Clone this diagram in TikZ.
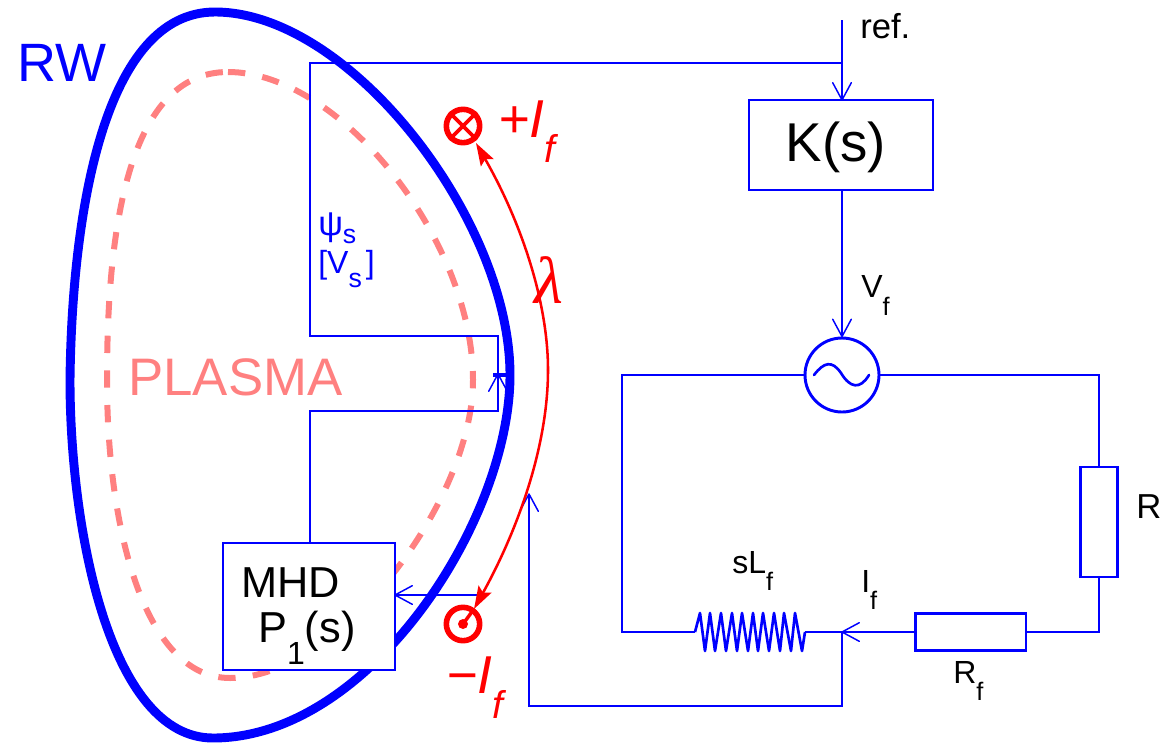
\documentclass[tikz,border=0pt]{standalone}
\usepackage{fontspec}
\setmainfont{Liberation Sans}
\newfontfamily\serifgreek{Liberation Serif}
\definecolor{bl}{RGB}{0,0,255}
\definecolor{pk}{RGB}{255,128,128}
\definecolor{rd}{RGB}{255,0,0}
\newcommand{\fs}[1]{\fontsize{#1}{#1}\selectfont}
\newcommand{\subdrop}[3]{\raisebox{-#1pt}{\fs{#2}#3}}
\usetikzlibrary{arrows.meta}
\pgfdeclarearrow{
  name=OpenVee,
  setup code={\pgfarrowssettipend{0pt}\pgfarrowssetlineend{-1pt}\pgfarrowssetbackend{-13pt}\pgfarrowssetvisualbackend{-1pt}},
  drawing code={\pgfsetdash{}{0pt}\pgfsetroundcap\pgfsetroundjoin
    \pgfpathmoveto{\pgfpoint{-13pt}{7pt}}\pgfpathlineto{\pgfpoint{0pt}{0pt}}\pgfpathlineto{\pgfpoint{-13pt}{-7pt}}\pgfusepathqstroke}
}
\tikzset{
  wire/.style={draw=bl,line width=1.1pt},
  openarrow/.style={-{OpenVee}},
  compbox/.style={draw=bl,line width=2pt,fill=white,inner sep=0pt},
  txt/.style={inner sep=0pt,text=black},
  redcurve/.style={draw=rd,line width=1.9pt},
  redtip/.style={-{Stealth[length=17pt,width=11pt,inset=3pt]}},
  coilring/.style={circle,draw=rd,line width=4.2pt,minimum size=25pt,inner sep=0pt,fill=white},
}
\begin{document}
\begin{tikzpicture}[x=0.75pt,y=-0.75pt]
\useasboundingbox (0,0) rectangle (1163,743);
% resistive wall
\draw[bl,line width=6.7pt] (215,12) .. controls (350,12) and (510,220) .. (510,375)
  .. controls (510,520) and (370,738) .. (213,738)
  .. controls (110,738) and (70,530) .. (70,380)
  .. controls (72,210) and (105,12) .. (215,12) -- cycle;
% plasma
\draw[pk,line width=4.5pt,dash pattern=on 13pt off 13pt] (228,72) .. controls (340,72) and (473,240) .. (473,380)
  .. controls (473,500) and (340,678) .. (230,678)
  .. controls (145,678) and (107,530) .. (107,380)
  .. controls (107,240) and (125,72) .. (228,72) -- cycle;
% nodes
\node[compbox,minimum width=138pt,minimum height=67.5pt] (K) at (841,145) {};
\node[txt,font=\fs{41}] (Ktxt) at (836,147) {K(s)};
\node[circle,draw=bl,line width=2.2pt,fill=white,minimum size=55.5pt,inner sep=0pt] (src) at (842,375) {};
\draw[bl,line width=2pt,line cap=round] (814,375) .. controls (824,362) and (832,360) .. (841,373) .. controls (850,388) and (860,390) .. (869,375);
\node[compbox,minimum width=27.5pt,minimum height=82.5pt] (Rg) at (1099,522) {};
\node[compbox,minimum width=83pt,minimum height=28pt] (Rf) at (970.5,632) {};
\node[compbox,line width=1.7pt,minimum width=129pt,minimum height=95pt] (P) at (309,606.5) {};
\node[txt,font=\fs{32.5},anchor=base west] (mhd) at (241,597) {MHD};
\node[txt,font=\fs{32.5},anchor=base west] (p1) at (258,642) {P\subdrop{17}{24}{1}(s)};
% named corners
\coordinate (ref) at (842,20);
\coordinate (Ktop) at (842,100);
\coordinate (tl) at (310,63);
\coordinate (tr) at (842,63);
\coordinate (a1) at (310,336);
\coordinate (a2) at (498,336);
\coordinate (a3) at (498,411);
\coordinate (a4) at (310,411);
\coordinate (sens) at (498,374);
\coordinate (a5) at (310,543);
\coordinate (ll) at (622,375);
\coordinate (lb) at (622,632);
\coordinate (c1) at (695,632);
\coordinate (c2) at (805,632);
\coordinate (jn) at (842,632);
\coordinate (rr) at (1099,375);
\coordinate (rb) at (1099,632);
\coordinate (fb) at (842,706);
\coordinate (fl) at (529,706);
\coordinate (ft) at (529,494);
\coordinate (ms) at (478,595);
\coordinate (mp) at (395,595);
% wires
\draw[wire,openarrow] (ref) -- (Ktop);
\draw[wire] (a5) -- (a4) -- (a3) -- (a2) -- (a1) -- (tl) -- (tr);
\draw[wire,openarrow] (a3) -- (sens);
\draw[wire,openarrow] (K.south -| src) -- (src.north);
\draw[wire] (src.west) -- (ll) -- (lb) -- (c1);
\draw[bl,line width=2pt,line join=round] (c1)
 -- (700,613) -- (705,651) -- (710,613) -- (715,651) -- (721,613) -- (726,651) -- (732,613) -- (737,651) -- (742,613) -- (748,651) -- (753,613) -- (758,651) -- (763,613) -- (769,651) -- (774,613) -- (780,651) -- (784,613) -- (791,651) -- (795,613) -- (802,651) -- (c2);
\draw[wire] (src.east) -- (rr) -- (Rg.north);
\draw[wire] (Rg.south) -- (rb) -- (Rf.east);
\draw[wire] (c2) -- (jn);
\draw[wire,openarrow] (Rf.west) -- (jn);
\draw[wire,openarrow] (jn) -- (fb) -- (fl) -- (ft);
\draw[wire,openarrow] (ms) -- (mp);
\draw[bl,line width=3.7pt] (493,375) -- (510,375);
% red
\node[coilring] (plus) at (463,126) {};
\node[coilring] (minus) at (463,624) {};
\draw[rd,line width=2.8pt] (plus.north west) -- (plus.south east) (plus.north east) -- (plus.south west);
\fill[rd] (minus.center) circle (5);
\coordinate (midl) at (548,370);
\coordinate (minustip) at (474,609);
\draw[redcurve,redtip] (midl) .. controls (548,300) and (520,220) .. (476,143);
\draw[redcurve,redtip] (midl) .. controls (548,450) and (515,535) .. (minustip);
\draw[rd,line width=2.6pt] (minustip) -- (minus.center);
% labels
\node[txt,text=bl,font=\fs{40.5},anchor=base west] (rw) at (17,81) {RW};
\node[txt,text=pk,font=\fs{39.6},anchor=base west] (plasma) at (128,395) {PLASMA};
\node[txt,font=\fs{26},anchor=base west] (reft) at (860,38) {ref.};
\node[txt,font=\fs{24},anchor=base west] (vf) at (861,297) {V\subdrop{13.5}{19}{f}};
\node[txt,font=\fs{26},anchor=base west] (rgt) at (1136,518) {R};
\node[txt,font=\fs{24},anchor=base west] (rft) at (953,683) {R\subdrop{13}{19}{f}};
\node[txt,font=\fs{24},anchor=base west] (slf) at (732,573) {sL\subdrop{13}{19}{f}};
\node[txt,font=\fs{24},anchor=base west] (ift) at (861,592) {I\subdrop{13}{19}{f}};
\node[txt,text=bl,font=\fs{26},anchor=base west] (psi) at (318,235) {ψ\subdrop{6}{20}{s}};
\node[txt,text=bl,font=\fs{24},anchor=base west] (vs) at (318,273) {[V\subdrop{11}{20}{s}\kern3pt]};
\node[txt,text=rd,font=\fs{40}\itshape,anchor=base west] (pl) at (498,137) {+I\subdrop{19}{29}{f}};
\node[txt,text=rd,font=\fs{40}\itshape,anchor=base west] (mi) at (446,693) {−I\subdrop{19}{29}{f}};
\node[txt,text=rd,font=\fs{50}\serifgreek\itshape,anchor=base west] (lam) at (534,303) {λ};
\end{tikzpicture}
\end{document}
